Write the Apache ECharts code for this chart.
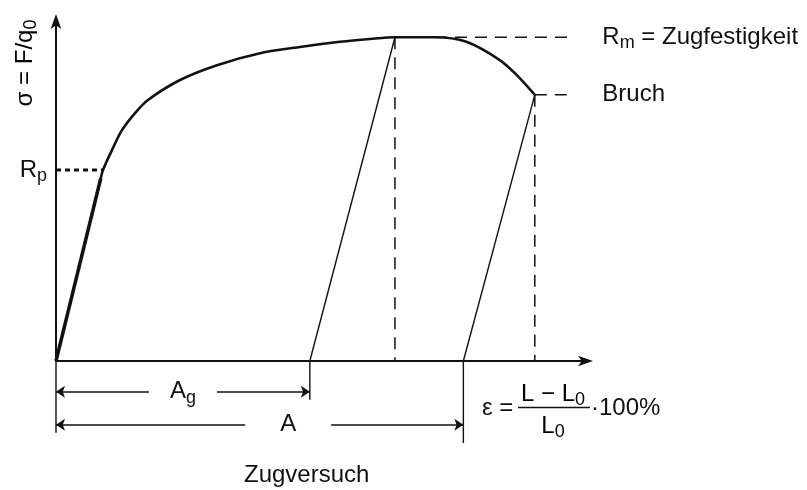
<!DOCTYPE html>
<html>
<head>
<meta charset="utf-8">
<script src="https://cdn.jsdelivr.net/npm/echarts@6/dist/echarts.min.js"></script>
<style>
  html, body { margin: 0; padding: 0; background: #ffffff; }
  #chart { width: 807px; height: 490px; }
</style>
</head>
<body>
<div id="chart"></div>
<script>
// Zugversuch: schematic stress-strain curve (strain in %, stress in N/mm²)

// Elastic (Hooke) range up to the proof stress
const elasticStrain = [0, 2.95];
const elasticStress = [0, 321];

// Plastic range up to fracture
const curveStrain = [2.95, 3.09, 3.68, 4.34, 5.2, 6.05, 8.16, 10.59, 13.42, 16.05, 18.68, 20.66, 22.3, 24.9, 27.0, 29.2, 30.3, 31.5];
const curveStress = [321, 335, 370, 405, 435, 458, 493, 519, 540, 551, 560, 565, 568, 568, 560, 528, 502, 467];

// Characteristic values
const proofStrain = 3.09;   // strain where R_p is reached
const Rp = 335;             // proof stress
const strainAtRm = 22.3;    // strain at maximum force
const Rm = 568;             // tensile strength
const breakStrain = 31.5;   // strain at fracture
const breakStress = 467;    // stress at fracture
const Ag = 16.7;            // uniform elongation (plastic)
const A = 26.8;             // elongation after fracture (plastic)

// Axis ranges
const xRange = [0, 35];
const yRange = [0, 600];

// Text
const textRp = '{b|R}{s|p}';
const textRm = '{b|R}{s|m}{b| = Zugfestigkeit}';
const textBreak = '{b|Bruch}';
const textAg = '{b|A}{s|g}';
const textA = '{b|A}';
const textSigma = '{b|σ = F/q}{s|0}';
const textTitle = 'Zugversuch';

const INK = '#111111';
const FONT = '"Liberation Sans", Arial, Helvetica, sans-serif';
const FS = 24;

const rich = {
  b: { fontSize: FS, fontFamily: FONT, color: INK, lineHeight: 28 },
  s: { fontSize: 18, fontFamily: FONT, color: INK, lineHeight: 18, padding: [12, 0, 0, 0] }
};

// layout helpers (below-axis dimension lines, extent of the reference dashes)
const refEnd = 34.1;
const dimAgY = -54, dimAY = -112;
const extOrigin = -126, extAg = -68, extA = -144;

const zip = (xs, ys) => xs.map((x, i) => [x, ys[i]]);

function line(data, width, type, z) {
  return {
    type: 'line', data: data, symbol: 'none', silent: true, clip: false,
    animation: false, z: z || 2,
    lineStyle: { color: INK, width: width, type: type || 'solid', cap: 'butt' }
  };
}

const dashed = [12, 8];

const series = [
  line(zip(elasticStrain, elasticStress), 3.5, 'solid', 4),
  Object.assign(line(zip(curveStrain, curveStress), 2.6, 'solid', 4), { smooth: 0.3 }),
  // elastic unloading lines
  line([[strainAtRm, Rm], [Ag, 0]], 1.4),
  line([[breakStrain, breakStress], [A, 0]], 1.4),
  // vertical projections
  line([[strainAtRm, Rm], [strainAtRm, 0]], 1.5, dashed),
  line([[breakStrain, breakStress], [breakStrain, 0]], 1.5, dashed),
  // horizontal reference dashes
  line([[strainAtRm, Rm], [refEnd, Rm]], 1.5, dashed),
  line([[breakStrain, breakStress], [refEnd, breakStress]], 1.5, dashed),
  line([[0, Rp], [proofStrain, Rp]], 3, [5, 4]),
  // extension lines for the dimensions
  line([[0, 0], [0, extOrigin]], 1.4),
  line([[Ag, 0], [Ag, extAg]], 1.4),
  line([[A, 0], [A, extA]], 1.4),
  // dimension arrows
  {
    type: 'lines', coordinateSystem: 'cartesian2d', clip: false, silent: true, animation: false,
    symbol: ['arrow', 'arrow'], symbolSize: 9,
    lineStyle: { color: INK, width: 1.6, opacity: 1 },
    data: [
      { coords: [[0, dimAgY], [Ag, dimAgY]] },
      { coords: [[0, dimAY], [A, dimAY]] }
    ]
  },
  // labels
  {
    type: 'scatter', symbolSize: 0, clip: false, silent: true, animation: false, z: 6,
    itemStyle: { color: INK, opacity: 1 },
    label: { show: true, color: INK, opacity: 1, rich: rich },
    data: [
      { value: [0, Rp], label: { position: 'left', distance: 9, formatter: textRp } },
      { value: [refEnd, Rm], label: { position: 'right', distance: 28, formatter: textRm } },
      { value: [refEnd, breakStress], label: { position: 'right', distance: 28, formatter: textBreak } },
      { value: [Ag / 2, dimAgY], label: { position: 'inside', formatter: textAg, backgroundColor: '#ffffff', padding: [0, 21, 0, 21] } },
      { value: [A * 0.57, dimAY], label: { position: 'inside', formatter: textA, backgroundColor: '#ffffff', padding: [0, 35, 0, 35] } }
    ]
  }
];

const chart = echarts.init(document.getElementById('chart'), null, { renderer: 'canvas' });

const axisArrow = {
  show: true, onZero: false,
  symbol: ['none', 'arrow'], symbolSize: [8, 15], symbolOffset: [0, 5],
  lineStyle: { color: INK, width: 2 }
};

chart.setOption({
  backgroundColor: '#ffffff',
  animation: false,
  title: {
    text: textTitle, left: 244, top: 463, padding: 0,
    textStyle: { fontFamily: FONT, fontSize: FS, fontWeight: 'normal', color: INK }
  },
  grid: { left: 56, top: 19, width: 532, height: 342, containLabel: false },
  xAxis: {
    type: 'value', min: xRange[0], max: xRange[1],
    axisLine: axisArrow,
    axisTick: { show: false }, axisLabel: { show: false }, splitLine: { show: false }
  },
  yAxis: {
    type: 'value', min: yRange[0], max: yRange[1],
    axisLine: axisArrow,
    axisTick: { show: false }, axisLabel: { show: false }, splitLine: { show: false }
  },
  graphic: [
    { type: 'text', x: 25, y: 63, rotation: Math.PI / 2,
      style: { text: textSigma, rich: rich, align: 'center', verticalAlign: 'middle' } },
    // strain formula
    { type: 'text', x: 482, y: 408,
      style: { text: 'ε =', fontSize: FS, fontFamily: FONT, fill: INK, align: 'left', verticalAlign: 'middle' } },
    { type: 'text', x: 553, y: 394,
      style: { text: '{b|L − L}{s|0}', rich: rich, align: 'center', verticalAlign: 'middle' } },
    { type: 'line', shape: { x1: 518, y1: 407.5, x2: 590, y2: 407.5 }, style: { stroke: INK, lineWidth: 1.5 } },
    { type: 'text', x: 553, y: 426,
      style: { text: '{b|L}{s|0}', rich: rich, align: 'center', verticalAlign: 'middle' } },
    { type: 'text', x: 591, y: 408,
      style: { text: '·100%', fontSize: FS, fontFamily: FONT, fill: INK, align: 'left', verticalAlign: 'middle' } }
  ],
  series: series
});
</script>
</body>
</html>
